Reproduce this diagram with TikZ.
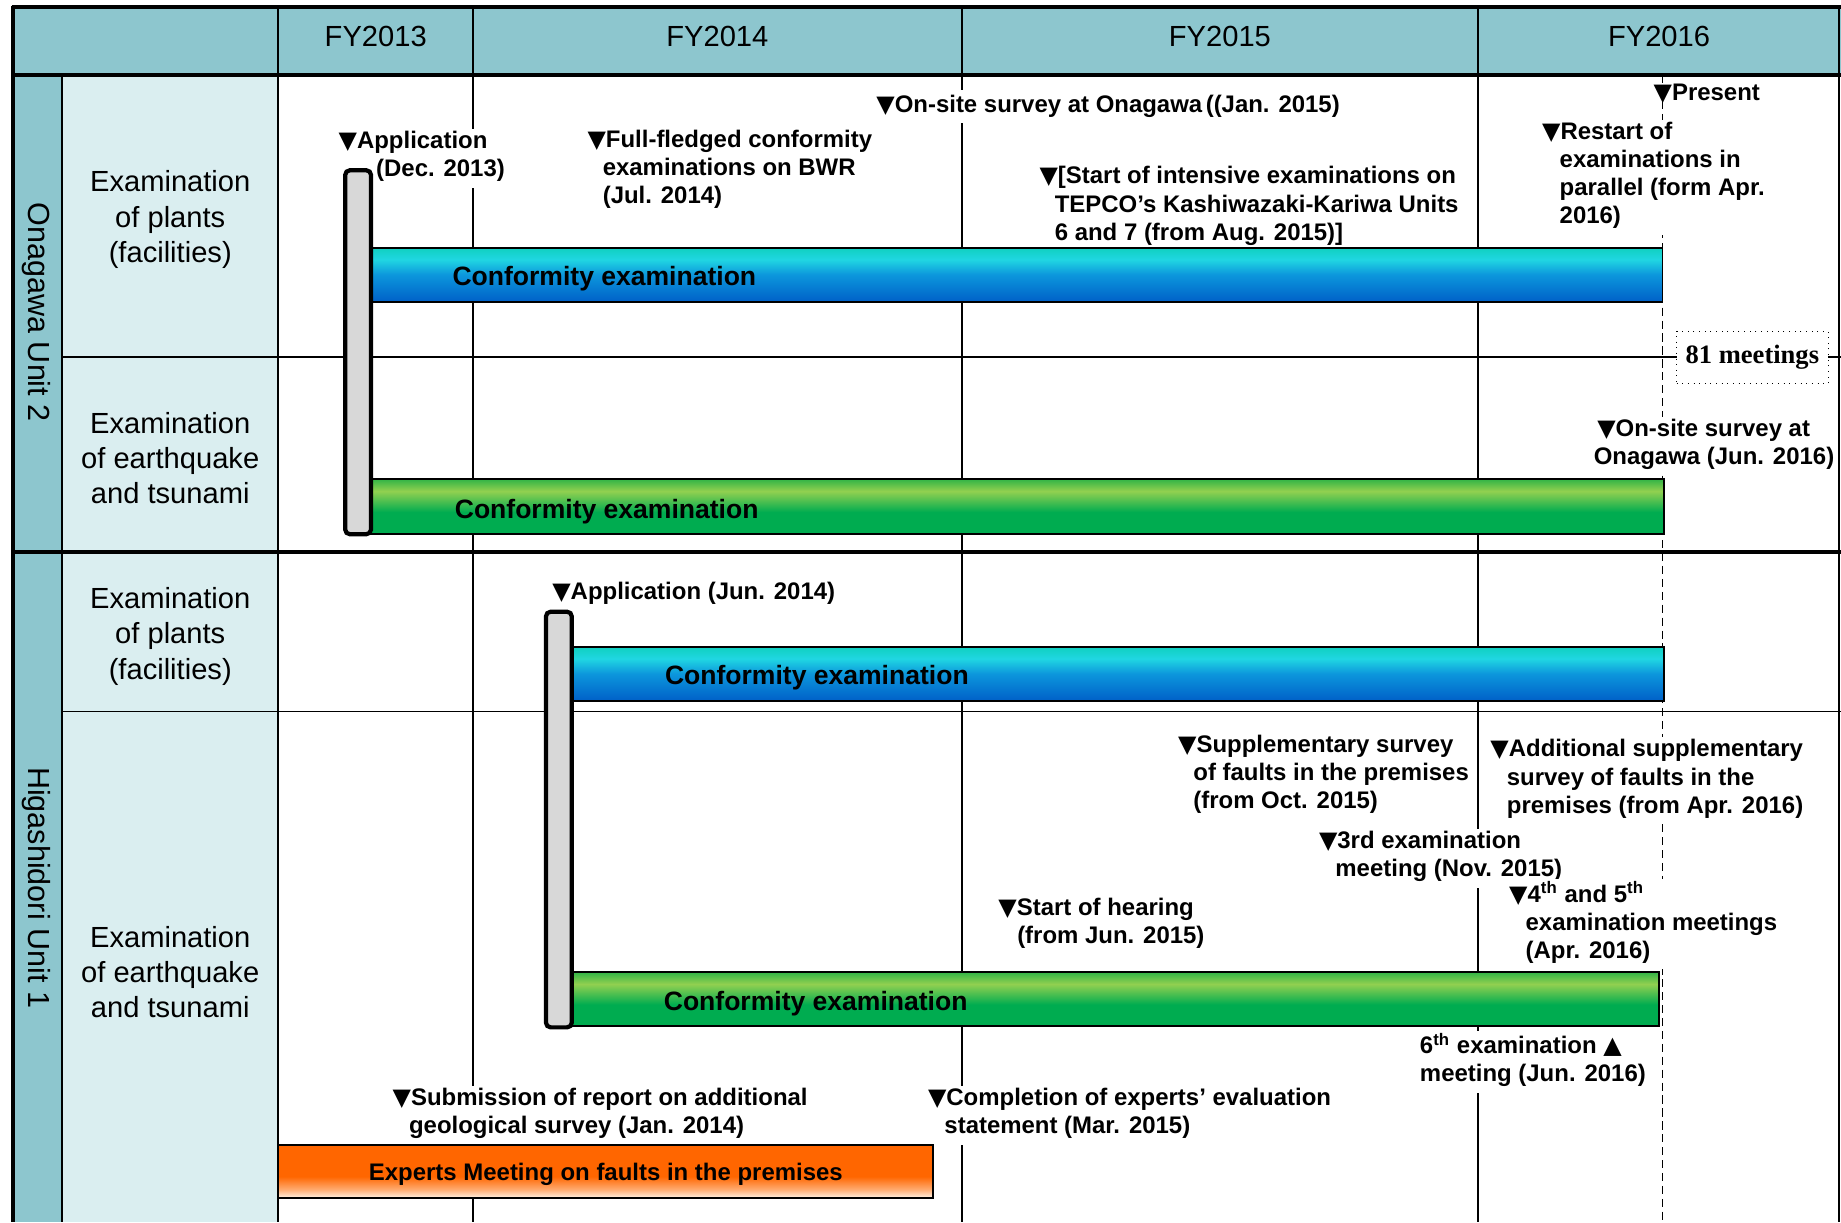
\documentclass[tikz,border=0pt]{standalone}
\usepackage{fontspec}
\setmainfont{Liberation Sans}
\newfontfamily\serifrm{Liberation Serif}
\newfontfamily\symfont{DejaVu Sans}
\definecolor{headteal}{RGB}{141,198,206}
\definecolor{rowpale}{RGB}{218,238,240}
\definecolor{barteal}{RGB}{16,208,192}
\definecolor{barcyan}{RGB}{32,214,226}
\definecolor{barmid}{RGB}{12,150,220}
\definecolor{barblue}{RGB}{0,96,200}
\definecolor{grntop}{RGB}{50,180,70}
\definecolor{grnlight}{RGB}{146,208,80}
\definecolor{grndark}{RGB}{0,172,80}
\definecolor{orng}{RGB}{255,102,0}
\definecolor{orngmid}{RGB}{255,170,110}
\definecolor{orngpale}{RGB}{255,240,225}
\definecolor{pillgray}{RGB}{216,216,216}
\pgfdeclareverticalshading{blueshade}{100bp}{color(0bp)=(barblue); color(25bp)=(barblue); color(50bp)=(barmid); color(64bp)=(barcyan); color(75bp)=(barteal); color(100bp)=(barteal)}
\pgfdeclareverticalshading{greenshade}{100bp}{color(0bp)=(grndark); color(25bp)=(grndark); color(45bp)=(grndark); color(64bp)=(grnlight); color(75bp)=(grntop); color(100bp)=(grntop)}
\pgfdeclareverticalshading{orangeshade}{100bp}{color(0bp)=(orngpale); color(25bp)=(orngpale); color(33bp)=(orngmid); color(45bp)=(orng); color(75bp)=(orng); color(100bp)=(orng)}
\newcommand{\tridown}{{\symfont ▼}}
\newcommand{\triup}{{\symfont ▲}}
\usetikzlibrary{positioning}

\begin{document}
\begin{tikzpicture}[
    x=0.5pt, y=-0.5pt,
    grid/.style={line width=0.8pt},
    thickgrid/.style={line width=2pt},
    fytext/.style={font=\fontsize{12.4}{15}\selectfont},
    rowtext/.style={font=\fontsize{12.4}{15}\selectfont, align=center},
    unittext/.style={font=\fontsize{13}{15}\selectfont, rotate=-90},
    lbl/.style={font=\fontsize{10.2}{12}\selectfont\bfseries, align=left,
                anchor=north west, fill=white, inner sep=1pt,
                execute at begin node=\strut},
    bartext/.style={font=\fontsize{11.3}{13}\selectfont\bfseries, anchor=west, inner sep=0pt},
    barframe/.style={draw=black, line width=0.8pt},
    pill/.style={draw=black, line width=1.8pt, fill=pillgray, rounded corners=2pt},
    present/.style={dash pattern=on 3.5pt off 2pt, line width=0.6pt}
]
    \useasboundingbox (0,0) rectangle (1568,1041);

    \fill[headteal] (10,6) rectangle (1568,64);
    \fill[headteal] (10,64) rectangle (53,1041);
    \fill[rowpale] (53,64) rectangle (237,1041);

    \foreach \gx in {237,403,819,1259}
        \draw[grid] (\gx,6) -- (\gx,1041);
    \draw[grid] (53,64) -- (53,1041);
    \draw[grid] (1566,6) -- (1566,1041);
    \draw[grid] (53,304) -- (1568,304);
    \draw[grid] (53,606) -- (1568,606);
    \draw[line width=1.6pt] (10,64) -- (1568,64);
    \draw[thickgrid] (10,470) -- (1568,470);
    \draw[thickgrid] (10,6) -- (1568,6);
    \draw[thickgrid] (11,5) -- (11,1041);

    \node[fytext] (fy13) at (320,31) {FY2013};
    \node[fytext] (fy14) at (611,31) {FY2014};
    \node[fytext] (fy15) at (1039,31) {FY2015};
    \node[fytext] (fy16) at (1413,31) {FY2016};

    \node[unittext] (onagawa) at (31,266) {Onagawa Unit 2};
    \node[unittext] (higashi) at (31,756) {Higashidori Unit 1};

    \node[rowtext] (onaplant) at (145,187) {Examination\\of plants\\(facilities)};
    \node[rowtext] (onaquake) at (145,390) {Examination\\of earthquake\\and tsunami};
    \node[rowtext] (higplant) at (145,542) {Examination\\of plants\\(facilities)};
    \node[rowtext] (higquake) at (145,828) {Examination\\of earthquake\\and tsunami};

    \draw[present] (1416,64) -- (1416,1041);

    \node[lbl] (appdec) at (286,109.5) {\tridown Application\\\hspace*{16pt}(Dec. 2013)};
    \node[lbl] (bwr) at (498,108.5) {\tridown Full-fledged conformity\\\hspace*{6.5pt}examinations on BWR\\\hspace*{6.5pt}(Jul. 2014)};
    \node[lbl] (sitejan) at (744,76.5) {\tridown On-site survey at Onagawa\hspace{1.5pt}((Jan. 2015)};
    \node[lbl] (tepco) at (883,139.5) {\tridown [Start of intensive examinations on\\\hspace*{6.5pt}TEPCO’s Kashiwazaki-Kariwa Units\\\hspace*{6.5pt}6 and 7 (from Aug. 2015)]};
    \node[lbl, fill=none] (present) at (1406,66.5) {\tridown Present};
    \node[lbl] (restart) at (1311,101.5) {\tridown Restart of\\\hspace*{7.5pt}examinations in\\\hspace*{7.5pt}parallel (form Apr.\\\hspace*{7.5pt}2016)};
    \node[lbl] (sitejun) at (1358,354.5) {\tridown On-site survey at\\\hspace*{-1.5pt}Onagawa (Jun. 2016)};
    \node[lbl] (appjun) at (468,491.5) {\tridown Application (Jun. 2014)};
    \node[lbl] (suppoct) at (1001,623.5) {\tridown Supplementary survey\\\hspace*{6.5pt}of faults in the premises\\\hspace*{6.5pt}(from Oct. 2015)};
    \node[lbl] (suppapr) at (1267,627.5) {\tridown Additional supplementary\\\hspace*{7pt}survey of faults in the\\\hspace*{7pt}premises (from Apr. 2016)};
    \node[lbl] (meet3) at (1121,705.5) {\tridown 3rd examination\\\hspace*{7pt}meeting (Nov. 2015)};
    \node[lbl] (meet45) at (1283,748.5) {\tridown 4\textsuperscript{th} and 5\textsuperscript{th}\\\hspace*{7pt}examination meetings\\\hspace*{7pt}(Apr. 2016)};
    \node[lbl] (hearing) at (848,762.5) {\tridown Start of hearing\\\hspace*{8pt}(from Jun. 2015)};
    \node[lbl] (meet6) at (1207,877.5) {6\textsuperscript{th} examination \triup\\meeting (Jun. 2016)};
    \node[lbl] (report) at (332,924.5) {\tridown Submission of report on additional\\\hspace*{7pt}geological survey (Jan. 2014)};
    \node[lbl] (statement) at (788,924.5) {\tridown Completion of experts’ evaluation\\\hspace*{7pt}statement (Mar. 2015)};

    \node[draw, dotted, fill=white, inner sep=0pt, minimum width=64.5pt, minimum height=22.5pt,
          font=\serifrm\bfseries\fontsize{11.3}{13}\selectfont] (meet81) at (1492.5,304.5) {81 meetings};

    \path[barframe, shade, shading=blueshade] (316,211) rectangle (1416,257);
    \path[barframe, shade, shading=greenshade] (316,408) rectangle (1417,455);
    \path[barframe, shade, shading=blueshade] (487,551) rectangle (1417,597);
    \path[barframe, shade, shading=greenshade] (487,828) rectangle (1413,874);
    \path[barframe, shade, shading=orangeshade] (237,975) rectangle (795,1020);

    \node[bartext] (conf1) at (385,237.5) {Conformity examination};
    \node[bartext] (conf2) at (387,435.5) {Conformity examination};
    \node[bartext] (conf3) at (566,577.5) {Conformity examination};
    \node[bartext] (conf4) at (565,854.5) {Conformity examination};
    \node[bartext, anchor=center, font=\fontsize{10.2}{12}\selectfont\bfseries] (experts) at (516,1000) {Experts Meeting on faults in the premises};

    \draw[pill] (294,145) rectangle (316,455);
    \draw[pill] (465,521) rectangle (487,875);
\end{tikzpicture}
\end{document}
